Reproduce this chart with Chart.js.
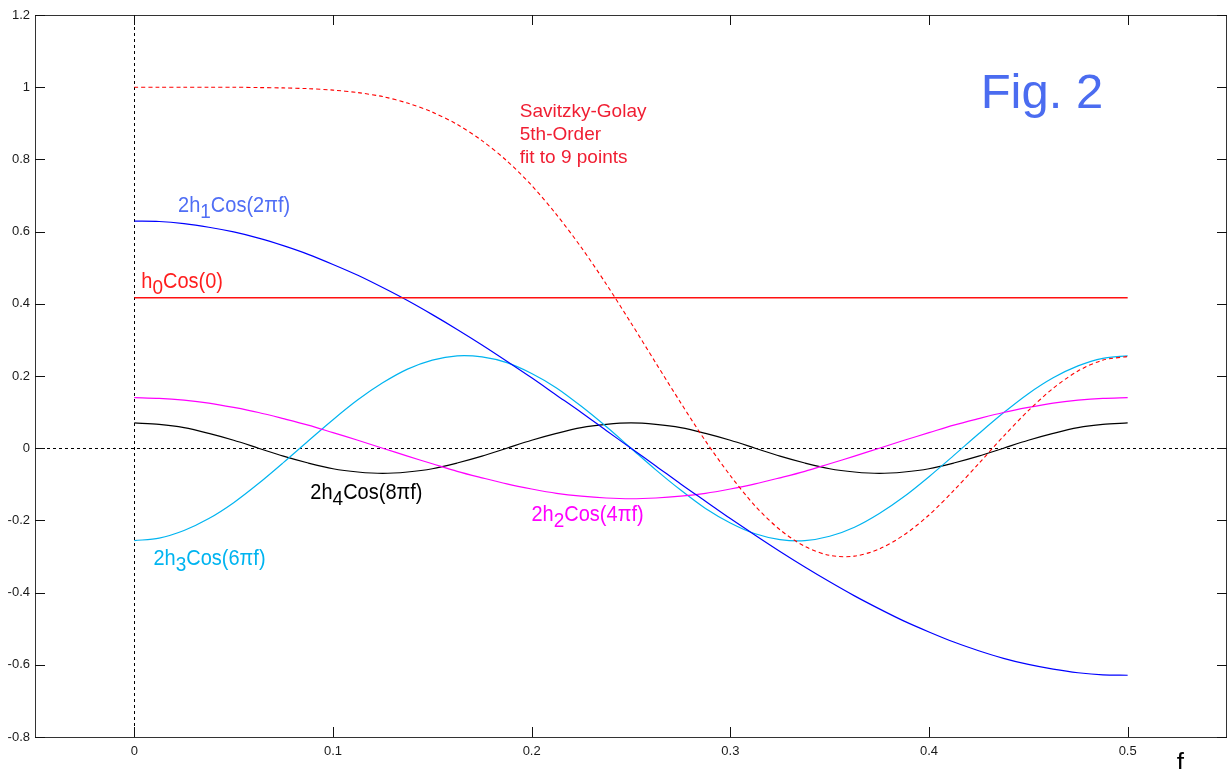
<!DOCTYPE html>
<html><head><meta charset="utf-8">
<script src="https://cdn.jsdelivr.net/npm/chart.js@4.4.1/dist/chart.umd.min.js"></script>
<style>html,body{margin:0;padding:0;background:#fff;overflow:hidden}</style>
</head><body>
<canvas id="c" width="1228" height="769"></canvas>
<script>
// ---- data ----
const freq = [0,0.0125,0.025,0.0375,0.05,0.0625,0.075,0.0875,0.1,0.1125,0.125,0.1375,0.15,0.1625,0.175,0.1875,0.2,0.2125,0.225,0.2375,0.25,
  0.2625,0.275,0.2875,0.3,0.3125,0.325,0.3375,0.35,0.3625,0.375,0.3875,0.4,0.4125,0.425,0.4375,0.45,0.4625,0.475,0.4875,0.5];
const h0Cos0 = [0.417,0.417,0.417,0.417,0.417,0.417,0.417,0.417,0.417,0.417,0.417,0.417,0.417,0.417,0.417,0.417,0.417,0.417,0.417,0.417,0.417,
  0.417,0.417,0.417,0.417,0.417,0.417,0.417,0.417,0.417,0.417,0.417,0.417,0.417,0.417,0.417,0.417,0.417,0.417,0.417,0.417];
const h1Cos2pf = [0.629,0.628,0.622,0.612,0.599,0.582,0.561,0.537,0.509,0.479,0.445,0.409,0.370,0.329,0.286,0.241,0.195,0.147,0.099,0.049,0,
  -0.049,-0.099,-0.147,-0.195,-0.241,-0.286,-0.329,-0.370,-0.409,-0.445,-0.479,-0.509,-0.537,-0.561,-0.582,-0.599,-0.612,-0.622,-0.628,-0.629];
const h2Cos4pf = [0.140,0.138,0.133,0.125,0.113,0.099,0.082,0.064,0.043,0.022,0,-0.022,-0.043,-0.064,-0.082,-0.099,-0.113,-0.125,-0.133,-0.138,-0.140,
  -0.138,-0.133,-0.125,-0.113,-0.099,-0.082,-0.064,-0.043,-0.022,0,0.022,0.043,0.064,0.082,0.099,0.113,0.125,0.133,0.138,0.140];
const h3Cos6pf = [-0.256,-0.249,-0.228,-0.195,-0.151,-0.098,-0.040,0.020,0.079,0.134,0.181,0.219,0.244,0.256,0.253,0.237,0.207,0.167,0.116,0.060,0,
  -0.060,-0.116,-0.167,-0.207,-0.237,-0.253,-0.256,-0.244,-0.219,-0.181,-0.134,-0.079,-0.020,0.040,0.098,0.151,0.195,0.228,0.249,0.256];
const h4Cos8pf = [0.070,0.066,0.057,0.041,0.022,0,-0.022,-0.041,-0.057,-0.066,-0.070,-0.066,-0.057,-0.041,-0.022,0,0.022,0.041,0.057,0.066,0.070,
  0.066,0.057,0.041,0.022,0,-0.022,-0.041,-0.057,-0.066,-0.070,-0.066,-0.057,-0.041,-0.022,0,0.022,0.041,0.057,0.066,0.070];
const sgResponse = [1.000,1.000,1.000,1.000,1.000,0.999,0.998,0.996,0.992,0.985,0.974,0.956,0.931,0.897,0.852,0.796,0.728,0.647,0.556,0.455,0.347,
  0.236,0.126,0.020,-0.076,-0.160,-0.226,-0.272,-0.297,-0.299,-0.279,-0.240,-0.185,-0.117,-0.043,0.033,0.104,0.166,0.214,0.244,0.254];
const xTickValues = [0,0.1,0.2,0.3,0.4,0.5];
const xTickLabels = ['0','0.1','0.2','0.3','0.4','0.5'];
const yTickValues = [-0.8,-0.6,-0.4,-0.2,0,0.2,0.4,0.6,0.8,1,1.2];
const yTickLabels = ['-0.8','-0.6','-0.4','-0.2','0','0.2','0.4','0.6','0.8','1','1.2'];

// text annotations (parts beginning with "_" are subscripts)
const notes = [
  {parts:['Fig. 2'], x:0.426, y:0.942, color:'#4b6cf0', size:49, sy:1},
  {parts:['Savitzky-Golay'], x:0.194, y:0.917, color:'#f01e32', size:19, sy:1},
  {parts:['5th-Order'], x:0.194, y:0.853, color:'#f01e32', size:19, sy:1},
  {parts:['fit to 9 points'], x:0.194, y:0.789, color:'#f01e32', size:19, sy:1},
  {parts:['2h','_1','Cos(2πf)'], x:0.022, y:0.654, color:'#506ef5', size:20, sy:1.08},
  {parts:['h','_0','Cos(0)'], x:0.0035, y:0.444, color:'#ff1e1e', size:20, sy:1.08},
  {parts:['2h','_4','Cos(8πf)'], x:0.0886, y:-0.141, color:'#000000', size:20, sy:1.08},
  {parts:['2h','_2','Cos(4πf)'], x:0.1999, y:-0.2017, color:'#ff00ff', size:20, sy:1.08},
  {parts:['2h','_3','Cos(6πf)'], x:0.0096, y:-0.3235, color:'#00b4f0', size:20, sy:1.08},
  {parts:['f'], x:0.5247, y:-0.893, color:'#000000', size:26, sy:1}
];

const FONT = '"Liberation Sans", Arial, Helvetica, sans-serif';
const pts = arr => arr.map((v,i)=>({x:freq[i], y:v}));

const figPlugin = {
  id:'fig',
  beforeDatasetsDraw(chart){
    const {ctx, chartArea:a, scales:{x,y}} = chart;
    ctx.save();
    ctx.strokeStyle = '#000'; ctx.lineWidth = 1; ctx.setLineDash([3,3]);
    const px = Math.round(x.getPixelForValue(0))+0.5;
    ctx.beginPath(); ctx.moveTo(px,a.top); ctx.lineTo(px,a.bottom); ctx.stroke();
    const py = Math.round(y.getPixelForValue(0))+0.5;
    ctx.beginPath(); ctx.moveTo(a.left,py); ctx.lineTo(a.right,py); ctx.stroke();
    ctx.restore();
  },
  afterDraw(chart){
    const {ctx, chartArea:a, scales:{x,y}} = chart;
    ctx.save();
    ctx.setLineDash([]);
    ctx.lineWidth = 1;
    ctx.strokeStyle = '#333';
    ctx.strokeRect(a.left+0.5, a.top+0.5, a.right-a.left-1, a.bottom-a.top);
    ctx.strokeStyle = '#111';
    ctx.beginPath();
    xTickValues.forEach(v=>{
      const p = Math.round(x.getPixelForValue(v))+0.5;
      ctx.moveTo(p,a.bottom); ctx.lineTo(p,a.bottom-10);
      ctx.moveTo(p,a.top); ctx.lineTo(p,a.top+10);
    });
    yTickValues.forEach(v=>{
      const p = Math.round(y.getPixelForValue(v))+0.5;
      ctx.moveTo(a.left,p); ctx.lineTo(a.left+10,p);
      ctx.moveTo(a.right,p); ctx.lineTo(a.right-10,p);
    });
    ctx.stroke();
    ctx.textBaseline = 'alphabetic'; ctx.textAlign = 'left';
    notes.forEach(n=>{
      const bx = x.getPixelForValue(n.x), by = y.getPixelForValue(n.y);
      ctx.save();
      ctx.translate(bx, by); ctx.scale(1, n.sy);
      ctx.fillStyle = n.color;
      let cx = 0;
      n.parts.forEach(p=>{
        const sub = p.startsWith('_');
        const t = sub ? p.slice(1) : p;
        ctx.font = (sub ? n.size*0.95 : n.size) + 'px ' + FONT;
        ctx.fillText(t, cx, sub ? n.size*0.28 : 0);
        cx += ctx.measureText(t).width;
      });
      ctx.restore();
    });
    ctx.restore();
  }
};

const line = (data, color, extra) => Object.assign({
  data: pts(data), borderColor: color, backgroundColor: color, borderWidth: 1.2,
  pointRadius: 0, tension: 0.3, fill: false
}, extra||{});

new Chart(document.getElementById('c'), {
  type: 'line',
  data: { datasets: [
    line(sgResponse, '#ff0000', {borderDash:[4,3], borderWidth:1.1}),
    line(h0Cos0, '#ff1010', {borderWidth:1.5, tension:0}),
    line(h1Cos2pf, '#0000ff'),
    line(h2Cos4pf, '#ff00ff'),
    line(h3Cos6pf, '#00b4f0'),
    line(h4Cos8pf, '#000000')
  ]},
  options: {
    responsive: false, animation: false, devicePixelRatio: 1,
    layout: { padding: { top: 15, right: 1, left: 0, bottom: 0 } },
    plugins: { legend: {display:false}, tooltip: {enabled:false} },
    scales: {
      x: {
        type: 'linear', min: -0.05, max: 0.55,
        afterBuildTicks: s => { s.ticks = xTickValues.map(v=>({value:v})); },
        afterFit: s => { s.height = 32; },
        grid: { display: false, drawTicks: false }, border: { display: false },
        ticks: { autoSkip:false, maxRotation:0, padding: 7, color:'#1a1a1a',
          font: { family: FONT, size: 13 }, callback: (v,i) => xTickLabels[i] }
      },
      y: {
        type: 'linear', min: -0.8, max: 1.2,
        afterBuildTicks: s => { s.ticks = yTickValues.map(v=>({value:v})); },
        afterFit: s => { s.width = 35; },
        grid: { display: false, drawTicks: false }, border: { display: false },
        ticks: { autoSkip:false, padding: 5, color:'#1a1a1a',
          font: { family: FONT, size: 13 }, callback: (v,i) => yTickLabels[i] }
      }
    }
  },
  plugins: [figPlugin]
});
</script>
</body></html>
